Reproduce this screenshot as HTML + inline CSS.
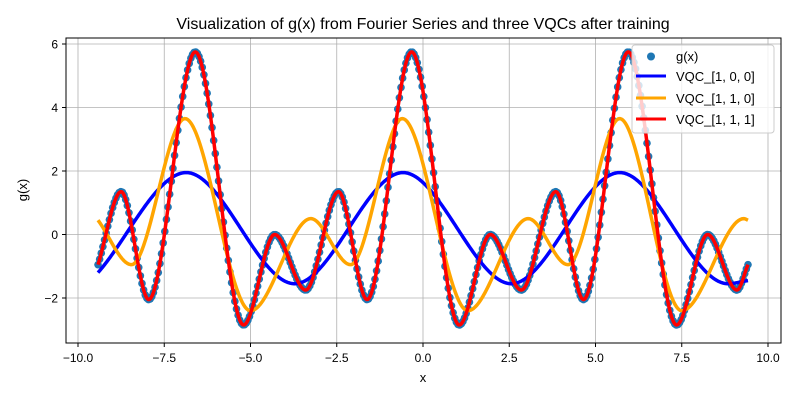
<!DOCTYPE html>
<html><head><meta charset="utf-8"><style>
body{margin:0;background:#fff;}
svg{font-family:"Liberation Sans","DejaVu Sans",sans-serif;}
</style></head><body>
<svg id="chart" width="800" height="400" xmlns="http://www.w3.org/2000/svg">
<rect width="800" height="400" fill="#fff"/>
<text x="423" y="29" text-anchor="middle" font-size="16">Visualization of g(x) from Fourier Series and three VQCs after training</text>
<g id="grid"></g>
<g id="plot"></g>
<rect x="66" y="38" width="715" height="305" fill="none" stroke="#000" stroke-width="1"/>
<g id="axes"></g>
<text x="423" y="382" text-anchor="middle" font-size="13">x</text>
<text x="27" y="190" text-anchor="middle" font-size="13" transform="rotate(-90 27 190)">g(x)</text>
<g>
<rect x="632" y="45" width="142" height="88" rx="3" fill="#fff" fill-opacity="0.8" stroke="#ccc"/>
<g><circle cx="651" cy="56.5" r="4" fill="#1f77b4"/><text x="676" y="61" font-size="13">g(x)</text></g>
<g><line x1="636" y1="76" x2="666" y2="76" stroke="#0000ff" stroke-width="3"/><text x="676" y="81" font-size="13">VQC_[1, 0, 0]</text></g>
<g><line x1="636" y1="98" x2="666" y2="98" stroke="#ffa500" stroke-width="3"/><text x="676" y="103" font-size="13">VQC_[1, 1, 0]</text></g>
<g><line x1="636" y1="119" x2="666" y2="119" stroke="#ff0000" stroke-width="3"/><text x="676" y="124" font-size="13">VQC_[1, 1, 1]</text></g>
</g>
</svg>
<script>
const xTicks=[-10,-7.5,-5,-2.5,0,2.5,5,7.5,10];
const xTickLabels=["−10.0","−7.5","−5.0","−2.5","0.0","2.5","5.0","7.5","10.0"];
const yTicks=[-2,0,2,4,6];
const yTickLabels=["−2","0","2","4","6"];
// knot points (extrema)
const gX=[-9.42,-8.75,-7.95,-6.6,-5.2,-4.3,-3.4,-2.45,-1.62,-0.33,1.05,1.95,2.85,3.85,4.65,5.95,7.35,8.25,9.1,9.42];
const gY=[-0.95,1.35,-2.05,5.75,-2.85,0,-1.75,1.35,-2.05,5.75,-2.85,0,-1.75,1.35,-2.05,5.75,-2.85,0,-1.75,-0.95];
const v100X=[-9.42,-6.86,-3.72,-0.58,2.56,5.7,8.84,9.42];
const v100Y=[-1.2,1.95,-1.55,1.95,-1.55,1.95,-1.55,-1.45];
const v110X=[-9.42,-8.45,-6.9,-5.0,-3.25,-2.1,-0.6,1.3,3.05,4.2,5.7,7.5,9.3,9.42];
const v110Y=[0.45,-0.95,3.65,-2.4,0.5,-0.95,3.65,-2.4,0.5,-0.95,3.65,-2.4,0.5,0.45];
const nSamples=400;

const NS="http://www.w3.org/2000/svg";
const sx=v=>423+v*34.5;
const sy=v=>234.5-v*31.75;
function mk(tag,attrs,parent){const e=document.createElementNS(NS,tag);for(const k in attrs)e.setAttribute(k,attrs[k]);parent.appendChild(e);return e;}
function interp(X,Y,x){
  let i=0;while(i<X.length-2&&x>X[i+1])i++;
  const n=X.length;
  const slope=j=>{
    if(j===0)return (Y[1]-Y[0])/(X[1]-X[0]);
    if(j===n-1)return (Y[n-1]-Y[n-2])/(X[n-1]-X[n-2]);
    const d0=(Y[j]-Y[j-1])/(X[j]-X[j-1]),d1=(Y[j+1]-Y[j])/(X[j+1]-X[j]);
    if(d0*d1<=0)return 0;return 2/(1/d0+1/d1);
  };
  const h=X[i+1]-X[i],t=(x-X[i])/h;
  const h00=2*t*t*t-3*t*t+1,h10=t*t*t-2*t*t+t,h01=-2*t*t*t+3*t*t,h11=t*t*t-t*t;
  return h00*Y[i]+h10*h*slope(i)+h01*Y[i+1]+h11*h*slope(i+1);
}
const grid=document.getElementById('grid'),axes=document.getElementById('axes'),plot=document.getElementById('plot');
xTicks.forEach((t,i)=>{
  const x=sx(t);
  const gl=mk('line',{x1:x,x2:x,y1:38,y2:343,stroke:'#b0b0b0','stroke-width':0.8},grid);
  
  
  mk('line',{x1:x,x2:x,y1:343,y2:347,stroke:'#000'},axes);
  const tx=mk('text',{x:x,y:362,'text-anchor':'middle','font-size':12},axes);
  tx.textContent=xTickLabels[i];
  
  
});
yTicks.forEach((t,i)=>{
  const y=sy(t);
  const gl=mk('line',{x1:66,x2:781,y1:y,y2:y,stroke:'#b0b0b0','stroke-width':0.8},grid);
  
  
  mk('line',{x1:62,x2:66,y1:y,y2:y,stroke:'#000'},axes);
  const tx=mk('text',{x:58,y:y+4.5,'text-anchor':'end','font-size':12},axes);
  tx.textContent=yTickLabels[i];
  
  
});
const x0=gX[0],x1=gX[gX.length-1];
const dots=mk('g',{},plot);


for(let k=0;k<nSamples;k++){
  const x=x0+(x1-x0)*k/(nSamples-1);
  const c=mk('circle',{cx:sx(x),cy:sy(interp(gX,gY,x)),r:3.8,fill:'#1f77b4'},dots);
  
  
}
function line(X,Y,color,name){
  let d='';const a=X[0],b=X[X.length-1];
  for(let k=0;k<=600;k++){const x=a+(b-a)*k/600;d+=(k?'L':'M')+sx(x).toFixed(2)+','+sy(interp(X,Y,x)).toFixed(2);}
  const p=mk('path',{d:d,fill:'none',stroke:color,'stroke-width':3.5,'stroke-linejoin':'round'},plot);
  
  
}
line(v100X,v100Y,'#0000ff','vqc-100-line');
line(v110X,v110Y,'#ffa500','vqc-110-line');
line(gX,gY,'#ff0000','vqc-111-line');
</script>
</body></html>
